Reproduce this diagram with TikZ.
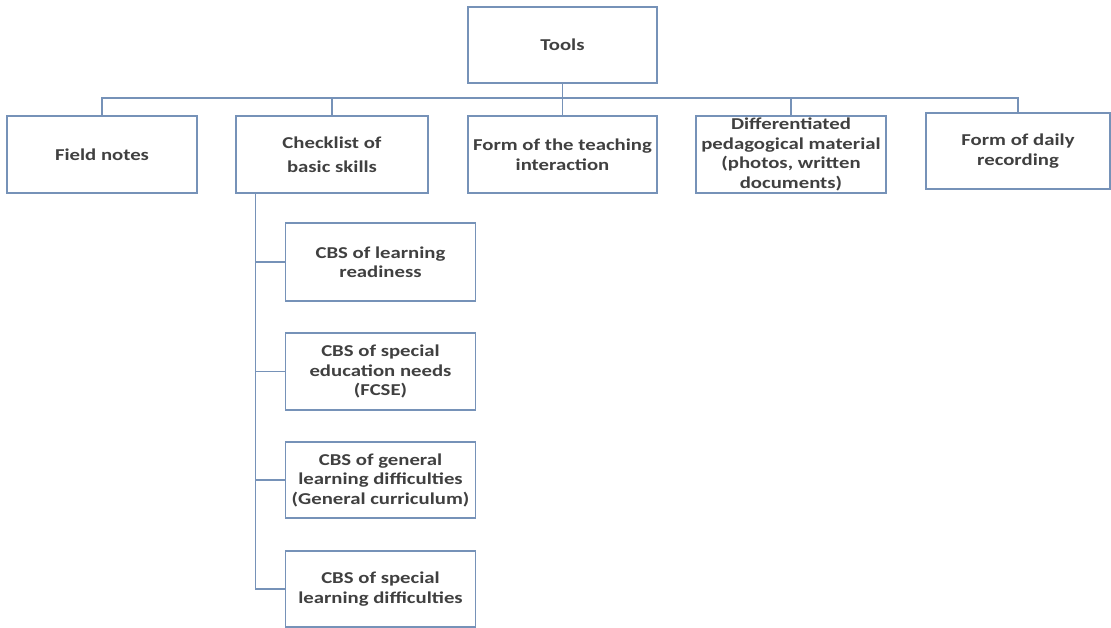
\documentclass[tikz,border=0pt]{standalone}
\usepackage{fontspec}
\setmainfont{Carlito}[FakeStretch=1.25]
\usepackage{tikz}
\definecolor{edgeblue}{RGB}{118,146,184}
\definecolor{textgrey}{RGB}{64,64,64}

\begin{document}
\begin{tikzpicture}[x=1pt,y=-1pt]
	\tikzstyle{tool}=[rectangle,draw=edgeblue,line width=1.3pt,fill=white,inner sep=0pt,align=center,text=textgrey,font=\bfseries\fontsize{16.6}{19.5}\selectfont]
	\tikzstyle{link}=[draw=edgeblue,line width=1.4pt]

	\useasboundingbox (0,0) rectangle (1111,628);

	\node [tool,minimum width=189pt,minimum height=76pt] (tools) at (562.5,45) {Tools};

	\node [tool,minimum width=190pt,minimum height=77pt] (field) at (102,154.5) {Field notes};
	\node [tool,minimum width=192pt,minimum height=77pt] (checklist) at (332,154.5) {Checklist of\\[5pt]basic skills};
	\node [tool,minimum width=189pt,minimum height=77pt] (form) at (562.5,154.5) {Form of the teaching\\interaction};
	\node [tool,minimum width=190pt,minimum height=77pt] (diff) at (791,154.5) {Differentiated\\pedagogical material\\(photos, written\\documents)};
	\node [tool,minimum width=184pt,minimum height=76pt] (daily) at (1018,151) {Form of daily\\recording};

	\node [tool,minimum width=190pt,minimum height=78pt] (cbs_ready) at (380.5,262) {CBS of learning\\readiness};
	\node [tool,minimum width=190pt,minimum height=77pt] (cbs_sen) at (380.5,371.5) {CBS of special\\education needs\\(FCSE)};
	\node [tool,minimum width=190pt,minimum height=76pt] (cbs_general) at (380.5,480) {CBS of general\\learning difficulties\\(General curriculum)};
	\node [tool,minimum width=190pt,minimum height=76pt] (cbs_special) at (380.5,589) {CBS of special\\learning difficulties};

	\coordinate (bus) at (562.5,98);
	\coordinate (trunk) at ([xshift=20pt]checklist.south west);

	\draw [link] (tools) -- (form);
	\foreach \dest in {field,checklist,diff,daily}
	  \draw [link] (bus) -| (\dest.north);

	\foreach \dest in {cbs_ready,cbs_sen,cbs_general,cbs_special}
	  \draw [link] (trunk) |- (\dest.west);
\end{tikzpicture}
\end{document}
